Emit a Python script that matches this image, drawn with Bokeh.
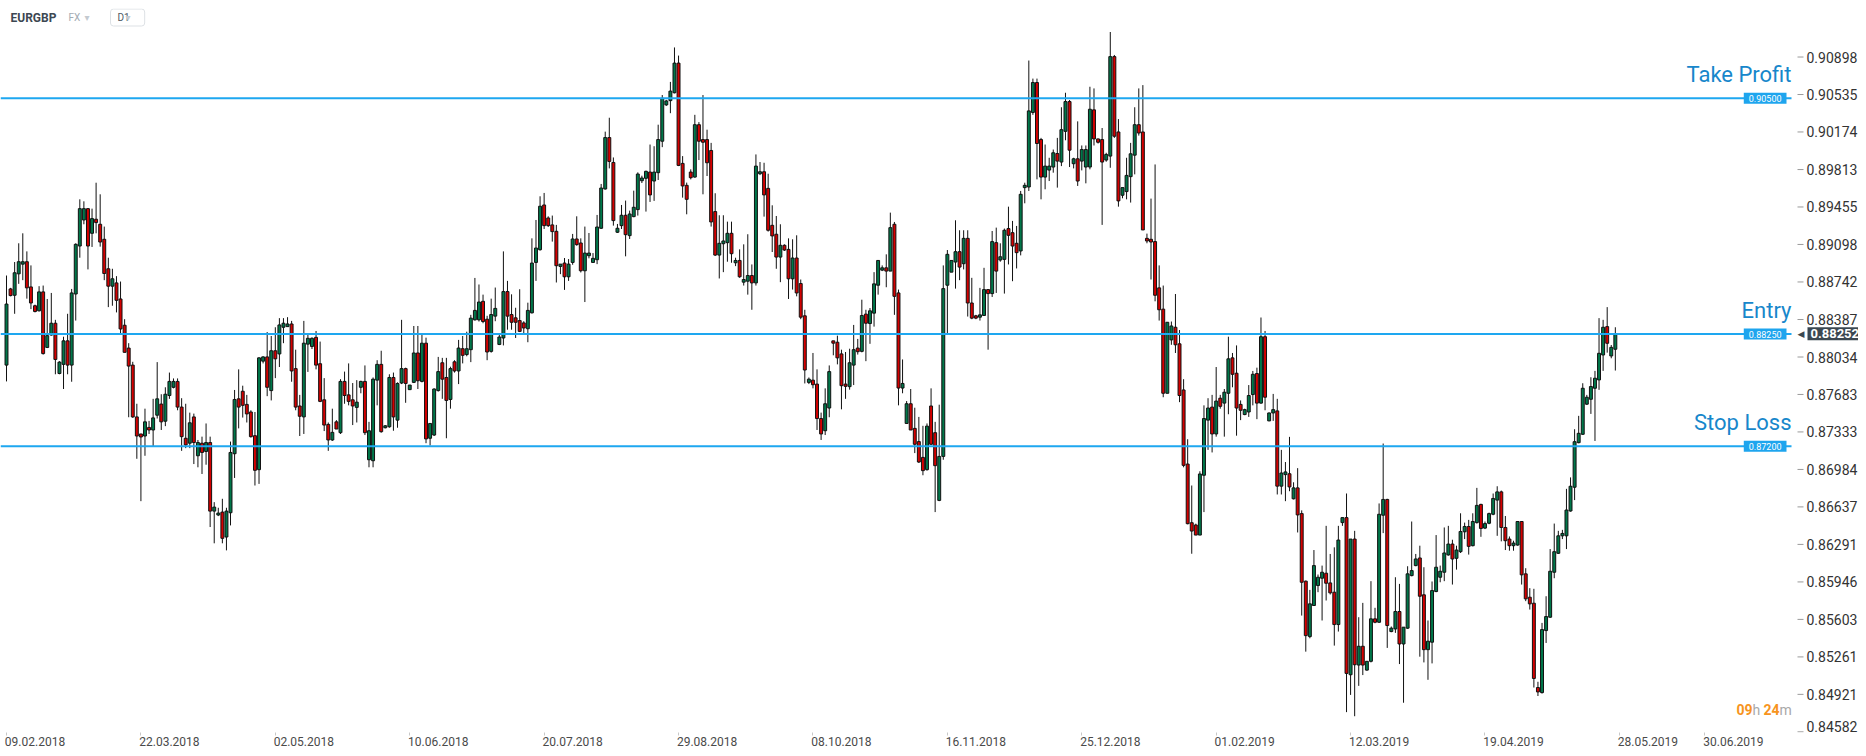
from bokeh.plotting import figure
from bokeh.models import Range1d, FixedTicker, Label, ColumnDataSource
from bokeh.core.properties import value, field
from bokeh.embed import file_html
from bokeh.resources import INLINE

symbol = "EURGBP"
market = "FX"
interval = "D1"

opens = [.87958,.88676,.88616,.88819,.88911,.88934,.88695,.88517,.88469,.88648,
.88124,.88241,.88352,.87879,.87965,.88186,.87958,.88628,.89083,.89331,
.89439,.89204,.89338,.8929,.89147,.88867,.88702,.88733,.88581,.88333,
.88118,.87958,.87473,.87314,.87295,.87375,.87351,.87489,.87593,.87433,
.87673,.8775,.87805,.87565,.87274,.87228,.87473,.87111,.87228,.87151,
.87234,.86598,.86562,.86589,.86359,.86583,.8713,.87642,.87713,.8759,
.87519,.87298,.86982,.87995,.88035,.87719,.88093,.88063,.88314,.8832,
.88345,.87925,.87575,.87473,.88155,.88133,.88219,.87971,.87633,.87403,
.87258,.87427,.87326,.87805,.87679,.87633,.87562,.8775,.87805,.87074,
.87065,.87817,.87965,.87372,.87381,.87842,.87443,.8779,.87925,.87728,
.87796,.88072,.87805,.88164,.87274,.87304,.87719,.8798,.87842,.87636,
.87989,.87903,.88112,.88057,.88103,.88384,.88384,.88559,.8839,.88087,
.88419,.88152,.88213,.88651,.88434,.88403,.88377,.88355,.883,.8845,
.88927,.89048,.89474,.8935,.89284,.89223,.88889,.88921,.88791,.88927,
.8915,.89112,.88848,.88991,.88927,.88953,.89252,.89627,.9012,.89881,
.89214,.89277,.89376,.89182,.89363,.8943,.89706,.89729,.89789,.89703,
.89783,.90085,.90435,.90476,.90552,.90839,.89872,.89662,.89789,.89741,
.90244,.90101,.90101,.89996,.89411,.88997,.89105,.89115,.89204,.88924,
.88946,.8874,.88749,.88803,.88733,.89773,.89792,.89633,.8928,.89195,
.88978,.8909,.89051,.88772,.88969,.88727,.88422,.87796,.87817,.8778,
.87458,.87344,.87556,.88186,.88173,.88063,.8778,.87756,.87958,.88118,
.88087,.88438,.88349,.88447,.88711,.88854,.88876,.88845,.8929,.88638,
.87743,.87412,.87596,.87366,.87243,.87096,.86982,.87575,.87326,.86697,
.87105,.88711,.88835,.88931,.89029,.88915,.89156,.88543,.88422,.88409,
.88425,.8867,.88632,.89115,.8895,.88956,.89249,.8921,.89109,.89036,
.8964,.89646,.90362,.90651,.90101,.89741,.89808,.89837,.89967,.89885,
.9018,.90467,.89869,.89916,.89894,.89837,.89837,.90387,.90107,.90101,
.89904,.89942,.90902,.90174,.89567,.89602,.89745,.89951,.90244,.90174,
.89156,.89147,.89125,.88686,.88485,.87694,.88195,.88314,.88158,.87725,
.87034,.86491,.8647,.86377,.8693,.87443,.87565,.87314,.87648,.87602,
.87694,.88026,.87882,.8759,.87495,.87519,.87682,.87879,.87602,.88225,
.87436,.8751,.87529,.86829,.86936,.86944,.86712,.86813,.86575,.85953,
.85446,.8573,.85913,.8598,.86026,.85937,.85852,.85556,.86492,.86538,
.85099,.8634,.85187,.85358,.85141,.85221,.85608,.85577,.8656,.86706,
.85492,.85516,.85675,.85379,.85523,.86004,.86096,.86166,.85828,.85327,
.85395,.85858,.85989,.86035,.86194,.86294,.86163,.86224,.86407,.86456,
.86279,.86492,.8666,.86441,.86486,.86569,.867,.86776,.86447,.8634,
.86279,.86285,.86502,.8602,.85806,.85751,.84983,.84937,.85501,.85623,
.86035,.86209,.8637,.8637,.86599,.86819,.87233,.87311,.87592,.87638,
.87741,.87819,.88053,.8832,.88044,.88107]

highs = [.88803,.88686,.88931,.89109,.89204,.89032,.88899,.88527,.88702,.88708,
.88581,.88638,.88384,.87995,.88225,.88441,.88676,.89109,.89528,.89509,
.89445,.89439,.89687,.89576,.89268,.88972,.88867,.88797,.88746,.8839,
.88164,.87989,.87596,.87314,.8755,.87436,.87642,.87986,.87685,.8775,
.87888,.87833,.87833,.87648,.87596,.87513,.87504,.87258,.87289,.87412,
.87289,.86681,.86629,.86712,.86629,.87243,.87725,.87918,.87765,.87679,
.87535,.87519,.88032,.88041,.88269,.88232,.88314,.884,.884,.88409,
.88374,.88103,.87679,.88374,.88241,.88219,.88279,.88179,.87836,.87421,
.8755,.87443,.87826,.87897,.87974,.8779,.87817,.87811,.87955,.87427,
.87842,.88004,.88093,.87397,.87872,.87888,.87796,.88384,.87934,.87771,
.88326,.88326,.88241,.88216,.87412,.8774,.88035,.88026,.88026,.87943,
.88004,.88195,.88232,.88272,.88431,.8878,.88718,.88622,.88422,.88584,
.88689,.88244,.89032,.88752,.88625,.88498,.88673,.88371,.88546,.89156,
.89331,.89557,.89589,.89366,.89373,.89284,.88911,.88969,.88959,.89198,
.89366,.89156,.89268,.89207,.89016,.89379,.89675,.90177,.90311,.89929,
.89293,.89474,.89516,.8942,.89611,.89786,.89754,.89802,.90053,.90037,
.90244,.9053,.90483,.90657,.90991,.90912,.89942,.89688,.89815,.90339,
.90269,.9053,.90196,.90069,.89586,.89376,.89376,.89315,.89315,.88972,
.89051,.89099,.89195,.88908,.89958,.89885,.89878,.89773,.89471,.89369,
.8929,.89099,.89156,.89147,.89185,.88765,.88479,.87842,.88072,.87918,
.87513,.8774,.87955,.88186,.88235,.88103,.88081,.88112,.88336,.88204,
.88574,.88479,.88495,.88835,.88946,.88899,.89004,.89401,.89312,.8867,
.88011,.87621,.87734,.87559,.87473,.8739,.87412,.8774,.87427,.87587,
.88899,.89045,.88946,.89328,.89233,.89233,.89233,.88781,.88431,.88686,
.88876,.8867,.89226,.89258,.89109,.89249,.89458,.89322,.89274,.89608,
.89687,.90864,.90689,.90689,.90117,.90053,.89926,.90005,.90117,.90412,
.90552,.90482,.89926,.90276,.90044,.90044,.9061,.90594,.9011,.90212,
.89974,.91141,.90918,.90298,.8964,.89926,.90069,.90412,.90594,.90626,
.89201,.89535,.89862,.88899,.88708,.88361,.88368,.88628,.88288,.87826,
.87265,.86835,.86482,.86967,.87581,.87648,.87679,.8794,.87679,.87734,
.88225,.88072,.88143,.87627,.8755,.87771,.87903,.87934,.88406,.88279,
.87513,.87688,.87642,.87166,.87053,.87287,.86865,.86996,.86605,.85959,
.85873,.86239,.86014,.86096,.86462,.86203,.86264,.86462,.86538,.86761,
.8634,.86416,.85623,.85754,.85221,.85953,.85709,.86669,.87225,.86712,
.85538,.85989,.85928,.85532,.8609,.86502,.86203,.86279,.86081,.85593,
.8595,.86377,.86096,.86447,.86462,.86334,.86279,.86578,.86492,.86517,
.86578,.86813,.86666,.86502,.86584,.86761,.86828,.86788,.86553,.86364,
.86325,.86502,.86502,.86072,.85889,.85883,.85035,.85571,.85815,.86248,
.86483,.86416,.86425,.86804,.8691,.87358,.87483,.87788,.87679,.87844,
.87904,.884,.88384,.88504,.88147,.88314]

lows = [.87805,.88606,.88441,.88724,.88759,.88584,.88485,.88454,.88463,.88057,
.88118,.88235,.87872,.87872,.87734,.87872,.87802,.88377,.88972,.8929,
.88861,.89074,.89204,.89077,.88759,.88504,.88517,.88454,.88256,.88078,
.8747,.87464,.87083,.8669,.87111,.87314,.87197,.87458,.87351,.87387,
.87642,.8774,.87535,.87157,.87182,.87182,.87034,.87004,.86942,.87028,
.86451,.86301,.86552,.86301,.86236,.86466,.86905,.87366,.87467,.87421,
.8728,.86835,.8685,.87974,.87667,.87627,.87836,.8794,.88164,.8832,
.87802,.87535,.87295,.87314,.87894,.88109,.87918,.87611,.87341,.87157,
.87249,.8736,.87314,.87596,.87581,.87397,.87421,.87694,.87304,.87004,
.87004,.87581,.87326,.87366,.87372,.87344,.87372,.8778,.87605,.87728,
.8779,.87734,.87796,.87228,.87206,.87295,.8771,.87642,.87274,.8755,
.87888,.8778,.87974,.88041,.87986,.88377,.88368,.88352,.88004,.88075,
.88371,.88146,.88143,.88291,.88291,.88213,.88269,.8826,.88173,.88444,
.88752,.89039,.89245,.89264,.89125,.88737,.88816,.88667,.88752,.88905,
.89086,.88832,.88552,.88966,.88927,.88911,.89245,.89621,.89824,.89277,
.89207,.89245,.88985,.8915,.89357,.89373,.89684,.89411,.89503,.89513,
.89713,.90028,.90425,.90355,.90546,.89846,.89544,.89385,.89719,.89735,
.89904,.89576,.89751,.89268,.88988,.88775,.88835,.88934,.88924,.88892,
.88781,.88708,.88622,.88479,.88708,.8976,.89363,.8922,.89026,.88867,
.8874,.89036,.88581,.8867,.88606,.8839,.87786,.8778,.8774,.87351,
.87258,.87304,.8747,.8805,.87965,.87544,.87642,.87728,.87771,.88057,
.88078,.87995,.88158,.8832,.88622,.88845,.88692,.88845,.88431,.87581,
.87694,.87412,.87351,.87136,.87044,.8693,.86973,.87212,.86589,.8669,
.87074,.88256,.88835,.88679,.88759,.88861,.88415,.8839,.8839,.88377,
.88425,.88103,.886,.88638,.88934,.88632,.88908,.88749,.8887,.88994,
.8949,.89608,.90339,.89719,.89528,.89624,.89703,.89783,.8964,.89846,
.90094,.89837,.89824,.89656,.89805,.89681,.89815,.90044,.90063,.89284,
.89888,.8983,.90117,.89458,.89538,.89528,.89497,.89767,.90139,.89236,
.89109,.88765,.88559,.88377,.87657,.87694,.88149,.88072,.87611,.87004,
.86476,.86205,.86377,.86377,.86589,.87166,.87142,.87289,.8755,.87289,
.87498,.8775,.87298,.87443,.87489,.87473,.87581,.87452,.87596,.87535,
.87433,.87436,.86752,.86752,.8669,.86782,.86706,.86401,.85638,.85309,
.85431,.8573,.85852,.85593,.85776,.85831,.85364,.85492,.86462,.8476,
.84916,.84723,.84998,.85096,.85135,.85211,.85568,.85571,.86395,.85343,
.85486,.8548,.85196,.84845,.85516,.85998,.8609,.85263,.85211,.85053,
.85202,.85852,.85943,.85953,.86187,.85922,.86059,.86212,.8634,.86197,
.86273,.86483,.86361,.86432,.86477,.8656,.8637,.86319,.86239,.86233,
.86233,.86279,.85922,.8577,.85693,.84983,.84906,.84928,.85388,.85617,
.8598,.86203,.8634,.86248,.86593,.867,.87227,.87305,.87585,.87501,
.87249,.87726,.87904,.88075,.88022,.87907]

closes = [.88533,.88613,.88829,.88934,.88934,.88686,.88543,.88463,.88648,.88066,
.88235,.88352,.88011,.87986,.88186,.87958,.88638,.89099,.89439,.89439,
.89083,.89344,.89306,.89121,.88822,.88702,.88772,.88568,.88298,.88078,
.87949,.87473,.87295,.87286,.87427,.87351,.87464,.87642,.87427,.87685,
.87805,.87805,.87565,.87289,.87212,.87418,.87234,.87234,.87142,.87234,
.86598,.86635,.8658,.86347,.86598,.87142,.87636,.87565,.87581,.87501,
.87289,.86976,.88026,.88035,.8775,.88093,.88017,.88336,.88352,.88345,
.87903,.87565,.87479,.88164,.8821,.8821,.87958,.87618,.87397,.87258,
.87329,.8736,.87805,.87673,.87618,.87575,.87611,.87805,.87326,.87344,
.87826,.87965,.87335,.8739,.87842,.87473,.87786,.87925,.87786,.87771,
.88072,.87811,.88164,.87268,.87412,.87734,.87897,.87826,.87627,.87925,
.87903,.88118,.8805,.88112,.884,.88473,.88552,.88368,.88081,.88434,
.88492,.88222,.88651,.88419,.88361,.88361,.88275,.88307,.88473,.88921,
.89064,.89462,.89277,.89277,.8922,.88896,.88911,.88791,.88911,.8915,
.89096,.88848,.89016,.89016,.88966,.89264,.89636,.9012,.89891,.89325,
.89252,.89376,.89191,.89388,.89452,.8977,.89732,.89796,.8957,.89789,
.90101,.90498,.90473,.90568,.90839,.89853,.89656,.89528,.89735,.90244,
.90085,.90075,.89878,.89312,.88997,.89109,.89131,.89204,.8901,.88946,
.88791,.88765,.88803,.88733,.89846,.89792,.8957,.89233,.89179,.88978,
.8909,.89045,.88772,.88969,.88638,.88409,.87912,.87826,.87774,.87458,
.87314,.87596,.87897,.88164,.88026,.87765,.87759,.8798,.88103,.88084,
.88425,.88352,.88469,.88724,.88946,.88876,.88845,.89258,.88606,.87743,
.87786,.87596,.87351,.87218,.87053,.86973,.87387,.87218,.87019,.87105,
.88679,.89004,.88946,.89029,.88883,.89156,.88543,.884,.884,.88431,
.8867,.88632,.89125,.88845,.88981,.89233,.89185,.89083,.8902,.89576,
.89662,.90377,.90651,.90063,.89741,.89846,.89846,.89974,.89894,.90196,
.90467,.89999,.89916,.89703,.90005,.90005,.90393,.90107,.90075,.89885,
.89958,.90902,.90133,.89513,.8964,.89757,.89964,.90244,.90164,.89236,
.89131,.89121,.88616,.88479,.87694,.88361,.88326,.88149,.87673,.87022,
.86482,.86414,.86377,.86942,.87458,.87556,.87314,.87621,.87572,.87704,
.88017,.87872,.87556,.87535,.87541,.87673,.87872,.87602,.88225,.87657,
.8751,.87541,.86829,.86951,.86961,.86822,.86813,.86563,.85943,.85455,
.85745,.86096,.85989,.86035,.85934,.85846,.85556,.86331,.86538,.85111,
.8634,.8519,.85358,.85187,.85221,.85608,.85577,.86569,.86706,.85547,
.85523,.85675,.85379,.85532,.8602,.8605,.86157,.85815,.85327,.85404,
.85867,.86081,.86044,.86212,.86294,.86157,.86239,.8641,.86456,.86273,
.86502,.86651,.86438,.86483,.86575,.86715,.86776,.86447,.86325,.86279,
.86303,.86502,.86011,.85791,.85745,.85065,.84943,.8551,.85629,.86044,
.86224,.8637,.86392,.86608,.86828,.87242,.8732,.87741,.87657,.87757,
.87835,.88069,.88314,.88163,.88125,.88252]

date_labels = ["09.02.2018", "22.03.2018", "02.05.2018", "10.06.2018", "20.07.2018",
               "29.08.2018", "08.10.2018", "16.11.2018", "25.12.2018", "01.02.2019",
               "12.03.2019", "19.04.2019", "28.05.2019", "30.06.2019"]
date_bars = [0, 33, 66, 99, 132, 165, 198, 231, 264, 297, 330, 363, 396, 417]

price_ticks = [0.90898, 0.90535, 0.90174, 0.89813, 0.89455, 0.89098, 0.88742, 0.88387,
               0.88034, 0.87683, 0.87333, 0.86984, 0.86637, 0.86291, 0.85946, 0.85603,
               0.85261, 0.84921, 0.84582]

level_names = ["Take Profit", "Entry", "Stop Loss"]
level_values = [0.905, 0.8825, 0.872]

current_price = 0.88252
countdown_hours = "09"
countdown_minutes = "24"

# ---------------------------------------------------------------- layout
W, H = 1858, 748
TOP = 8
BOTTOM = 15
FH = H - BOTTOM - TOP
PX = 4.073                       # pixels per bar
XS = -6 / PX                     # first bar sits 6px from the left edge
XE = XS + W / PX
Y0, Y1 = 0.84576, 0.91370


def bar_at(px):
    """x position (in bar units) of a horizontal pixel offset from the left edge"""
    return XS + px / PX


p = figure(width=W, height=H, output_backend="svg", toolbar_location=None,
           y_axis_type="log", y_axis_location=None,
           x_range=Range1d(XS, XE), y_range=Range1d(Y0, Y1),
           min_border_left=0, min_border_top=TOP, min_border_right=0,
           min_border_bottom=BOTTOM)
p.outline_line_color = None
p.background_fill_color = "white"
p.border_fill_color = "white"
p.grid.visible = False

FONT = "Roboto"

# ---------------------------------------------------------------- candles
n = len(opens)
xs = list(range(n))
hi = [max(h, o, c) for h, o, c in zip(highs, opens, closes)]
lo = [min(l, o, c) for l, o, c in zip(lows, opens, closes)]
top = [max(o, c) for o, c in zip(opens, closes)]
bot = [min(o, c) for o, c in zip(opens, closes)]
col = ["#00774a" if c >= o else "#d40000" for o, c in zip(opens, closes)]

src = ColumnDataSource(dict(x=xs, hi=hi, lo=lo, top=top, bot=bot, col=col))
p.segment(x0="x", y0="lo", x1="x", y1="hi", source=src, line_color="#111111", line_width=1)
p.vbar(x="x", width=0.72, top="top", bottom="bot", source=src,
       fill_color="col", line_color="#111111", line_width=1)

# ---------------------------------------------------------------- x axis
xa = p.xaxis[0]
tick_pos = [b + 7 for b in date_bars]
xa.ticker = FixedTicker(ticks=tick_pos, minor_ticks=date_bars)
xa.major_label_overrides = {t: lbl for t, lbl in zip(tick_pos, date_labels)}
xa.axis_line_color = None
xa.major_tick_line_color = None
xa.major_tick_out = 0
xa.major_tick_in = 0
xa.minor_tick_line_color = "#c8c8c8"
xa.minor_tick_out = 3
xa.minor_tick_in = 0
xa.major_label_standoff = 1
xa.major_label_text_font = FONT
xa.major_label_text_font_size = "12px"
xa.major_label_text_color = "#4a4a4a"

# ---------------------------------------------------------------- price scale (right)
n_t = len(price_ticks)
tick_src = ColumnDataSource(dict(
    x0=[bar_at(1797)] * n_t, x1=[bar_at(1803)] * n_t, xl=[bar_at(1806)] * n_t,
    y=price_ticks, txt=["%.5f" % t for t in price_ticks],
    base=["middle"] * (n_t - 1) + ["bottom"]))
p.segment(x0="x0", x1="x1", y0="y", y1="y", source=tick_src, line_color="#9a9a9a", line_width=1)
p.text(x="xl", y="y", text="txt", source=tick_src, text_align="left",
       text_baseline=field("base"), text_font=value(FONT), text_font_size=value("14px"),
       text_color="#333333")

# ---------------------------------------------------------------- levels
LINE_COL = "#1ea7f0"
TEXT_COL = "#1787cb"
lv_src = ColumnDataSource(dict(x0=[XS] * 3, x1=[bar_at(1791)] * 3, y=level_values))
p.segment(x0="x0", x1="x1", y0="y", y1="y", source=lv_src, line_color=LINE_COL, line_width=2)
for name, v in zip(level_names, level_values):
    p.add_layout(Label(x=1791, y=v, x_units="screen", y_units="data", text=name,
                       text_align="right", text_baseline="alphabetic", y_offset=24,
                       text_font=FONT, text_font_size="22px", text_color=TEXT_COL))
    p.add_layout(Label(x=1786, y=v, x_units="screen", y_units="data", text="%.5f" % v,
                       text_align="right", text_baseline="middle",
                       text_font=FONT, text_font_size="9px", text_color="white",
                       background_fill_color="#1ea5ee",
                       padding=dict(left=5, right=5, top=2, bottom=2)))

# current price tag
p.add_layout(Label(x=1807, y=current_price, x_units="screen", y_units="data",
                   text="%.5f" % current_price, text_align="left", text_baseline="middle",
                   text_font=FONT, text_font_size="13px", text_font_style="bold",
                   text_color="white", background_fill_color="#3b4751",
                   padding=dict(left=3, right=3, top=2, bottom=2)))
p.add_layout(Label(x=1804, y=current_price, x_units="screen", y_units="data",
                   text="\u25C0", text_align="right", text_baseline="middle",
                   text_font="DejaVu Sans", text_font_size="9px", text_color="#3b4751"))

# countdown
for txt, xx, colr, st in [(countdown_hours, 1736, "#f7941d", "bold"), ("h", 1752, "#a8a8a8", "normal"),
                          (countdown_minutes, 1763, "#f7941d", "bold"), ("m", 1779, "#a8a8a8", "normal")]:
    p.add_layout(Label(x=xx, y=23, x_units="screen", y_units="screen", text=txt,
                       text_align="left", text_baseline="middle", text_font=FONT,
                       text_font_size="14px", text_font_style=st, text_color=colr))

# header
HY = FH - 10
p.add_layout(Label(x=10, y=HY, x_units="screen", y_units="screen", text=symbol,
                   text_align="left", text_baseline="middle", text_font=FONT,
                   text_font_size="12px", text_font_style="bold", text_color="#3d4752"))
p.add_layout(Label(x=68, y=HY, x_units="screen", y_units="screen", text=market,
                   text_align="left", text_baseline="middle", text_font=FONT,
                   text_font_size="10px", text_color="#a3abb3"))
p.add_layout(Label(x=84, y=HY, x_units="screen", y_units="screen", text="\u25BE",
                   text_align="left", text_baseline="middle", text_font="DejaVu Sans",
                   text_font_size="10px", text_color="#c4cad0"))
p.add_layout(Label(x=110, y=HY, x_units="screen", y_units="screen", text=interval,
                   text_align="left", text_baseline="middle", text_font=FONT,
                   text_font_size="10px", text_color="#4f5a64",
                   border_line_color="#dde1e5", border_radius=3,
                   padding=dict(left=7, right=15, top=3, bottom=3)))
p.add_layout(Label(x=125, y=HY, x_units="screen", y_units="screen", text="\u25BE",
                   text_align="left", text_baseline="middle", text_font="DejaVu Sans",
                   text_font_size="10px", text_color="#c4cad0"))

open("out.html", "w").write(file_html(p, INLINE))
